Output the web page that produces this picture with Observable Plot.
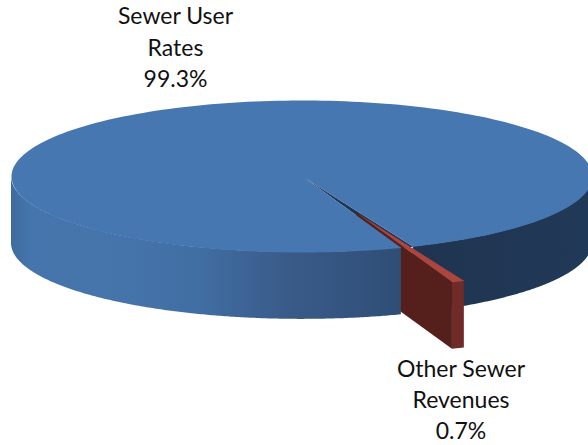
<!DOCTYPE html>
<html>
<head>
<meta charset="utf-8">
<style>html,body{margin:0;padding:0;background:#fff;overflow:hidden}</style>
<script src="https://cdn.jsdelivr.net/npm/d3@7"></script>
<script src="https://cdn.jsdelivr.net/npm/@observablehq/plot@0.6"></script>
</head>
<body>
<div id="chart"></div>
<script>
const categories = ["Sewer User Rates", "Other Sewer Revenues"];
const values = [99.3, 0.7];
const labelLines = [["Sewer User", "Rates", "99.3%"], ["Other Sewer", "Revenues", "0.7%"]];
const firstSliceAngle = 160;
const depth = 0.88;
const explode = [0, 0.485];
const apexShift = [0.012, 0.026];
const leftWallStops = [[0, "#3f6c9f"], [0.05, "#4675ad"], [0.3, "#4574aa"], [0.48, "#416ea3"], [0.61, "#3c6394"], [0.72, "#395a87"], [0.87, "#345480"], [1, "#2e4e76"]];
const rightWallStops = [[0, "#1f3450"], [1, "#213958"]];
const colors = {top: "#4777b0", gap: "#1e3554", redTop: "#ab453e", redFront: "#55201b", redEnd: "#6f2b27"};

const rad = d => d * Math.PI / 180;
const rim = a => ({x: Math.sin(rad(a)), y: -Math.cos(rad(a))});
const total = d3.sum(values);
const sewerEnd = firstSliceAngle + values[0] / total * 360;
const otherEnd = sewerEnd + values[1] / total * 360;
const mid = (sewerEnd + otherEnd) / 2;
const shift = {x: explode[1] * rim(mid).x, y: explode[1] * rim(mid).y};
const apex = {x: apexShift[0], y: apexShift[1]};
const move = p => ({x: p.x + shift.x, y: p.y + shift.y});
const arc = (a0, a1) => d3.range(0, 241).map(i => rim(a0 + (a1 - a0) * i / 240));
const wall = pts => pts.map(p => ({x: p.x, y1: p.y, y2: p.y + depth}));

// Blue top surface
const blueTop = [apex, ...arc(firstSliceAngle, sewerEnd)];
const gapTop = [apex, rim(sewerEnd), rim(firstSliceAngle)];
// Blue side walls, front-left and right of the gap
const leftWall = wall(arc(firstSliceAngle, 270));
const rightWall = wall(arc(90, firstSliceAngle - (otherEnd - sewerEnd)));
// Pulled-out slice
const redApex = move(apex);
const redA = move(rim(sewerEnd));
const redB = move(rim(firstSliceAngle + 360));
const redTop = [redApex, redA, redB];
const redFront = wall([redApex, redB]);
const redEnd = wall([redB, redA]);

const gradient = (id, stops) => () => {
  const defs = d3.create("svg:defs");
  const g = defs.append("linearGradient").attr("id", id).attr("x1", 0).attr("x2", 1).attr("y1", 0).attr("y2", 0);
  stops.forEach(([o, c]) => g.append("stop").attr("offset", o).attr("stop-color", c));
  return defs.node();
};

const labels = [
  ...labelLines[0].map((t, i) => ({t, cx: 175, cy: 16.5 + i * 31.5})),
  ...labelLines[1].map((t, i) => ({t, cx: 460.5, cy: 369.5 + i * 31}))
];
const xScale = d3.scaleLinear().domain([-1, 1]).range([11, 592]);
const yScale = d3.scaleLinear().domain([-1, 1]).range([100, 252]);

const area = (data, fill) => Plot.areaY(data, {x: "x", y1: "y1", y2: "y2", fill});
const poly = (data, fill) => Plot.line(data, {x: "x", y: "y", fill, stroke: "none"});

const chart = Plot.plot({
  width: 588,
  height: 445,
  margin: 0,
  style: {background: "#fff", overflow: "hidden"},
  x: {domain: [-1, 1], range: [11, 592], axis: null},
  y: {domain: [-1, 1], range: [100, 252], axis: null},
  marks: [
    gradient("leftWallFill", leftWallStops),
    gradient("rightWallFill", rightWallStops),
    area(rightWall, "url(#rightWallFill)"),
    poly(gapTop, colors.gap),
    area(redFront, colors.redFront),
    area(redEnd, colors.redEnd),
    poly(redTop, colors.redTop),
    area(leftWall, "url(#leftWallFill)"),
    poly(blueTop, colors.top),
    Plot.text(labels, {
      x: d => xScale.invert(d.cx),
      y: d => yScale.invert(d.cy),
      text: "t",
      fontFamily: "Lato",
      fontSize: 23,
      fill: "#111",
      textAnchor: "middle",
      lineAnchor: "middle"
    })
  ]
});
document.getElementById("chart").append(chart);
</script>
</body>
</html>
